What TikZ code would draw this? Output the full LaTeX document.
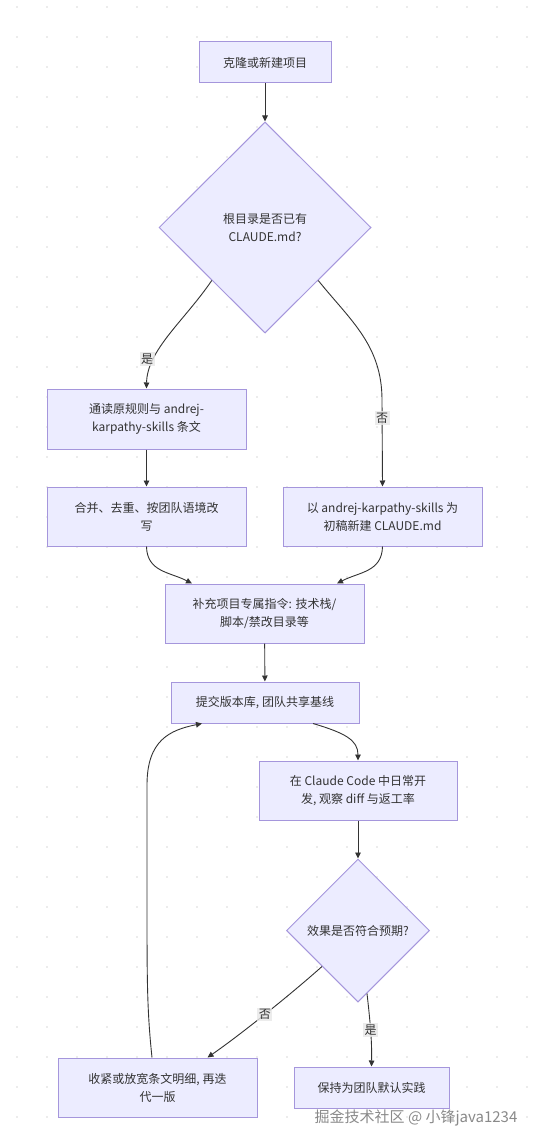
\documentclass[tikz,border=0pt]{standalone}
\usepackage{fontspec}
\setmainfont{Noto Sans CJK SC}
\usetikzlibrary{shapes.geometric,arrows.meta,calc}
\definecolor{nodefill}{HTML}{ECECFF}
\definecolor{nodedraw}{HTML}{A596DC}
\definecolor{ink}{HTML}{333333}
\definecolor{lblbg}{HTML}{E8E8E8}
\definecolor{gridc}{HTML}{DADADA}
\definecolor{wmc}{HTML}{8A8A8A}
\begin{document}
\begin{tikzpicture}[x=1pt,y=-1pt,
 box/.style={draw=nodedraw, fill=nodefill, line width=1pt, align=center, text=ink, font=\fontsize{12}{18}\selectfont, inner sep=0pt},
 dec/.style={box, shape=diamond, aspect=1},
 edge/.style={draw=ink, line width=0.9pt, -{Triangle[length=6pt,width=5.5pt]}},
 lbl/.style={fill=lblbg, fill opacity=0.8, text opacity=1, text=ink, font=\fontsize{12}{14}\selectfont, inner sep=1.5pt},
 wmark/.style={text=wmc, font=\fontsize{15}{15}\selectfont, inner sep=0pt}]
\fill[white] (0,0) rectangle (537,1145);
\useasboundingbox (0,0) rectangle (537,1145);
\foreach \x in {17,47,...,527} {
  \foreach \y in {7,37,...,1137} {
    \fill[gridc] (\x,\y) circle (0.9);
  }
}
% nodes
\node[box, minimum width=132, minimum height=41] (clone) at (265,62.5) {克隆或新建项目};
\node[dec, minimum width=212, minimum height=211] (hasmd) at (265,227.5) {根目录是否已有\\CLAUDE.md?};
\node[box, minimum width=199, minimum height=60] (read) at (146.5,419) {通读原规则与 andrej-\\karpathy-skills 条文};
\node[box, minimum width=199, minimum height=59] (merge) at (146.5,516.5) {合并、去重、按团队语境改\\写};
\node[box, minimum width=199, minimum height=59] (init) at (382.5,516.5) {以 andrej-karpathy-skills 为\\初稿新建 CLAUDE.md};
\node[box, minimum width=199, minimum height=59] (supp) at (264.5,613.5) {补充项目专属指令: 技术栈/\\脚本/禁改目录等};
\node[box, minimum width=188, minimum height=41] (commit) at (265,702.5) {提交版本库, 团队共享基线};
\node[box, minimum width=198, minimum height=59] (dev) at (358,790.5) {在 Claude Code 中日常开\\发, 观察 diff 与返工率};
\node[dec, minimum width=143, minimum height=143] (ok) at (358,930.5) {效果是否符合预期?};
\node[box, minimum width=199, minimum height=59] (iter) at (157.5,1087.5) {收紧或放宽条文明细, 再迭\\代一版};
\node[box, minimum width=155, minimum height=41] (keep) at (371.5,1087.5) {保持为团队默认实践};
% edges
\draw[edge] (clone) -- (hasmd);
\coordinate (hasmdSW) at ($(hasmd.west)!0.5!(hasmd.south)$);
\coordinate (hasmdSE) at ($(hasmd.east)!0.5!(hasmd.south)$);
\draw[edge] (hasmdSW) .. controls (185,320) and (147,350) .. (read.north);
\node[lbl] (yes1) at (147,359) {是};
\draw[edge] (hasmdSE) .. controls (350,320) and (382,345) .. (382,400) -- (init.north);
\node[lbl] (no1) at (382,418) {否};
\draw[edge] (read) -- (merge);
\draw[edge] (merge.south) .. controls (147,572) and (170,572) .. ($(supp.north)+(-72.5,0)$);
\draw[edge] (init.south) .. controls (382,572) and (359,572) .. ($(supp.north)+(72.5,0)$);
\draw[edge] (supp) -- (commit);
\draw[edge] ($(commit.south)+(48,0)$) .. controls (345,733) and (358,740) .. (dev.north);
\draw[edge] (dev) -- (ok);
\coordinate (okSW) at ($(ok.west)!0.5!(ok.south)$);
\coordinate (okSE) at ($(ok.south)!0.125!(ok.east)$);
\draw[edge] (okSW) .. controls (290,995) and (240,1035) .. node[lbl,pos=0.5]{否} ($(iter.north)+(50,0)$);
\draw[edge] (okSE) .. controls (370,1020) and (372,1040) .. node[lbl,pos=0.5]{是} (keep.north);
\draw[edge] ($(iter.north)+(-5.5,0)$) .. controls (147,1010) and (147,980) .. (147,900) -- (147,785) .. controls (147,740) and (170,730) .. ($(commit.south)+(-63,0)$);
% watermark
\node[wmark] (wm) at (416,1118) {掘金技术社区 @ 小锋java1234};
\end{tikzpicture}
\end{document}
